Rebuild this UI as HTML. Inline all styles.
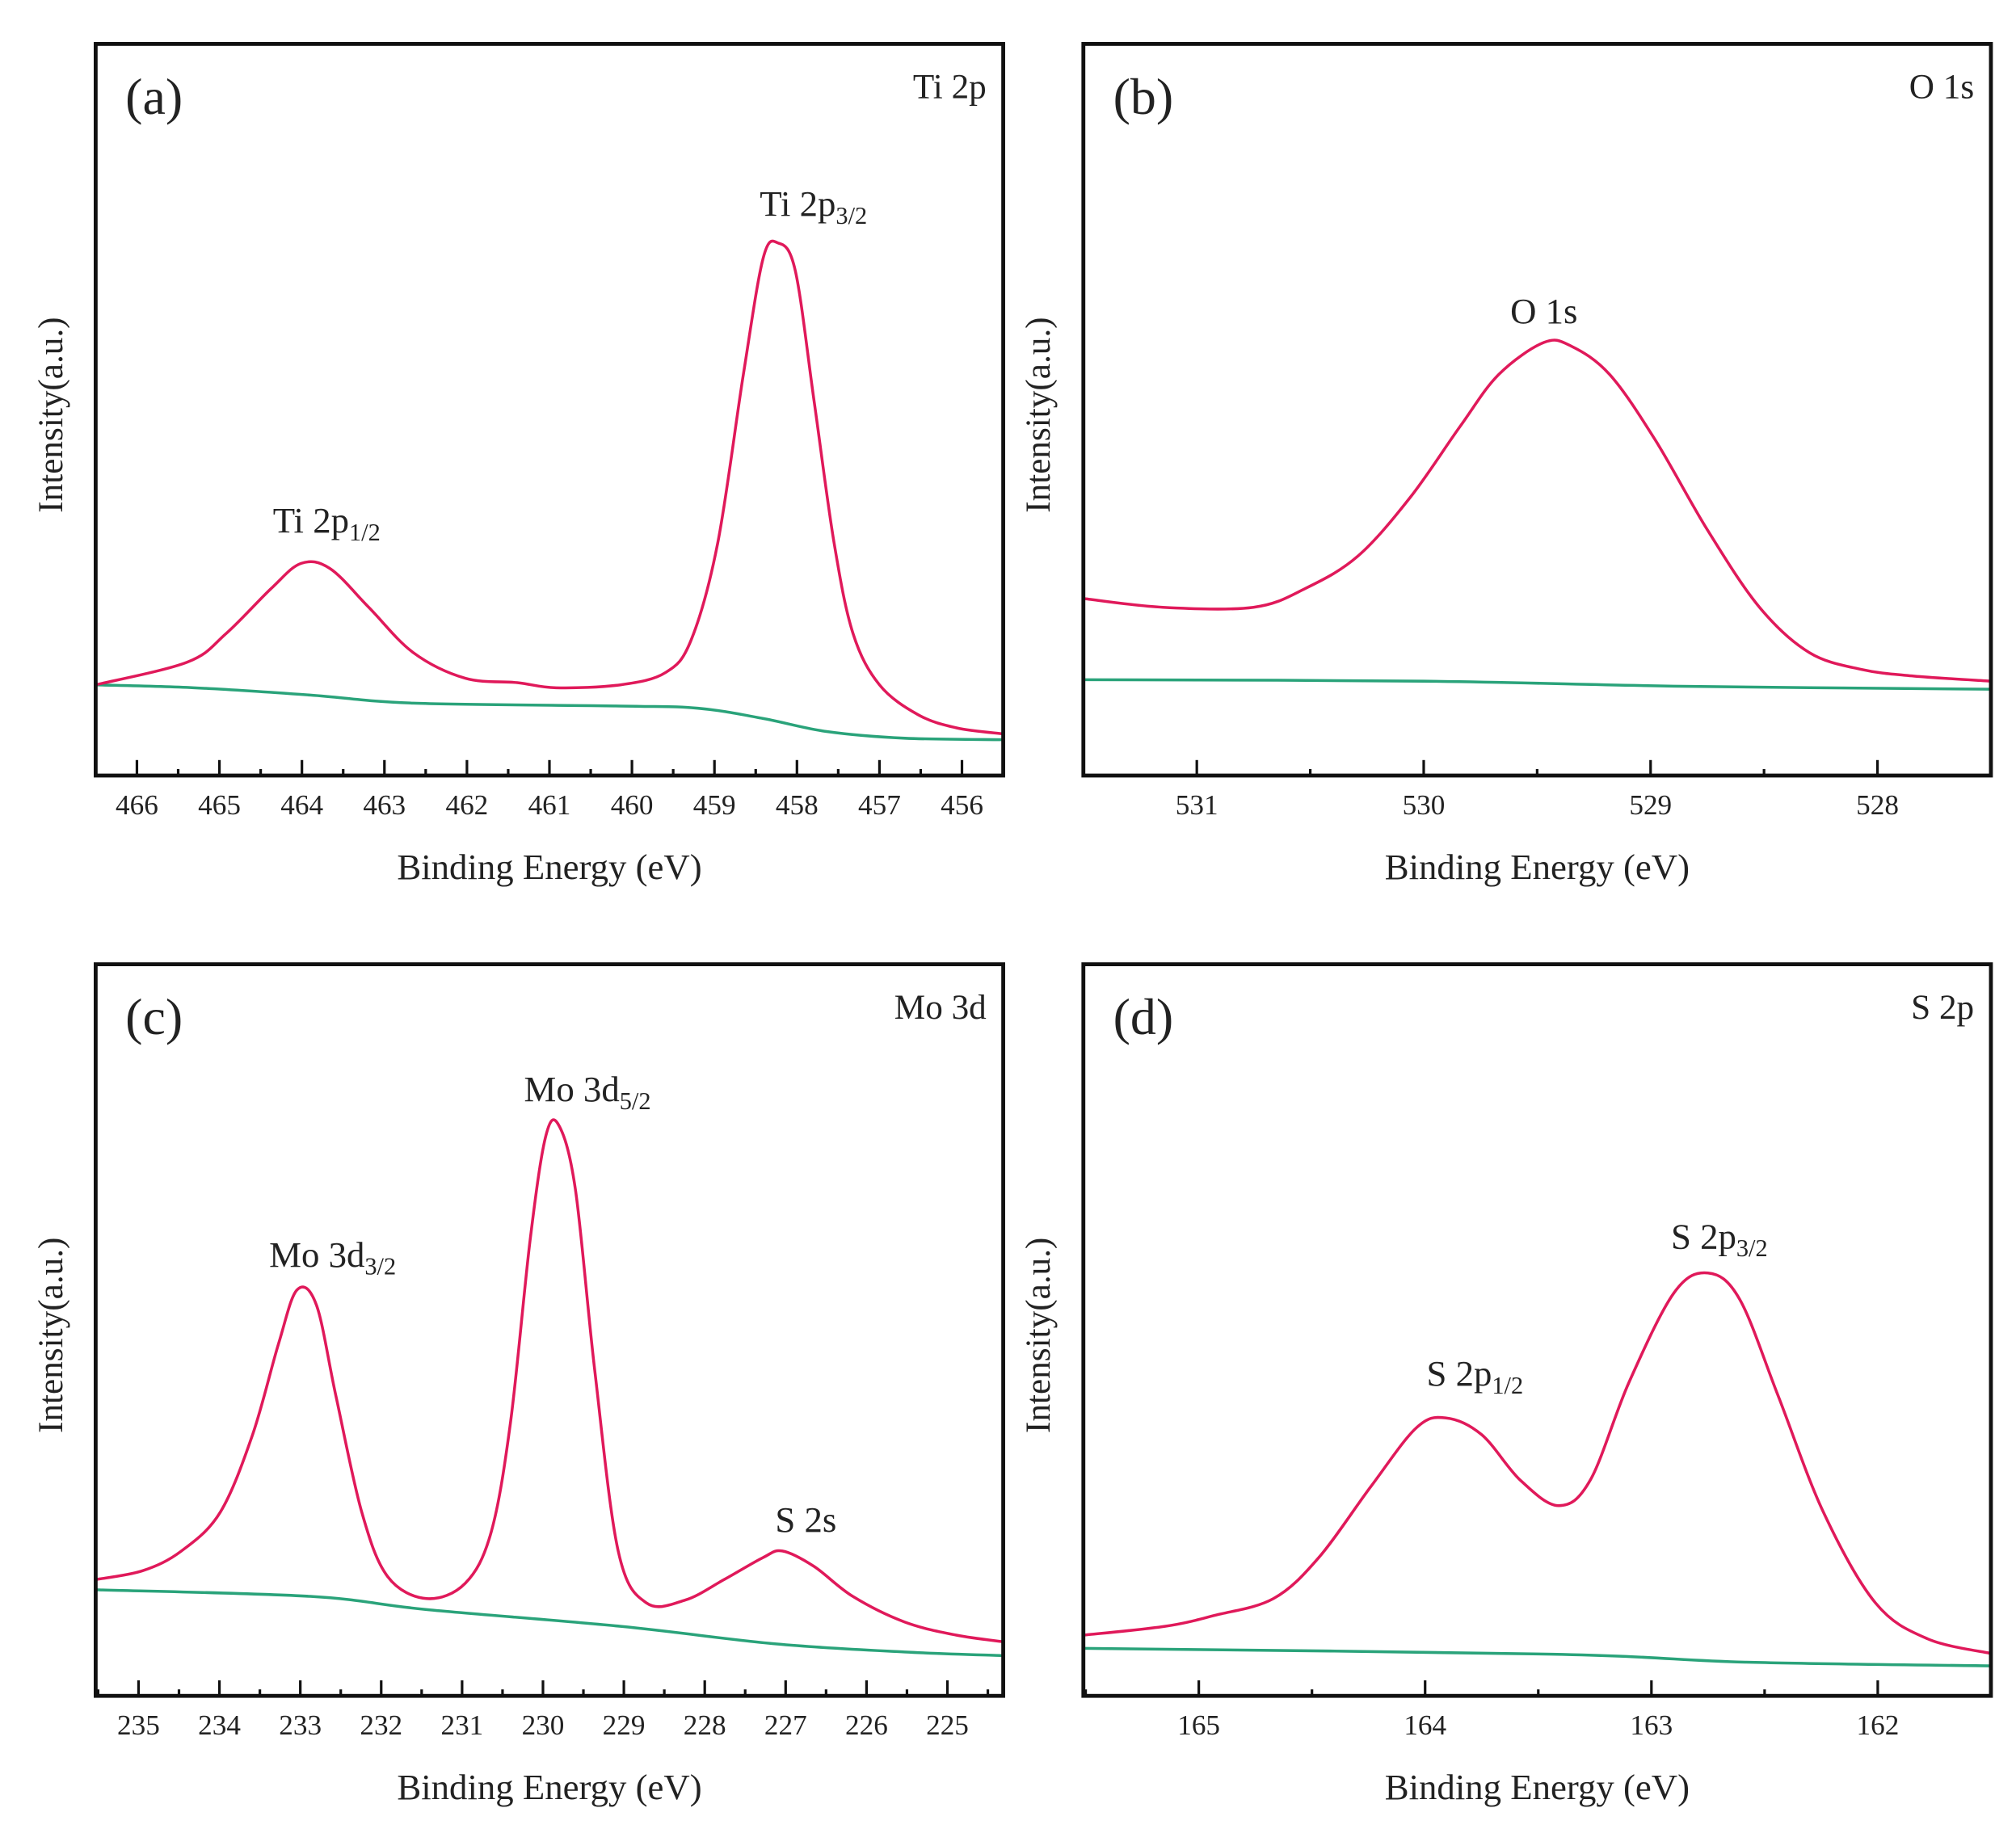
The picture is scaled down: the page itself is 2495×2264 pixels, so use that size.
<!DOCTYPE html>
<html><head><meta charset="utf-8"><style>
html,body{margin:0;padding:0;background:#fff;}
svg{display:block;}
text{font-family:"Liberation Serif",serif;fill:#222;}
</style></head><body>
<svg id="fig" width="2495" height="2264" viewBox="0 0 1559.4 1415" preserveAspectRatio="none" xmlns="http://www.w3.org/2000/svg"></svg>
<script>
// Panel (a) Ti 2p
const aRedX=[466.50,465.39,464.92,464.37,464.01,463.66,463.19,462.65,462.02,461.39,460.92,460.14,459.59,459.28,458.96,458.65,458.41,458.23,458.02,457.79,457.55,457.32,457.00,456.53,456.06,455.50];
const aRedY=[.124,.155,.194,.256,.290,.283,.230,.168,.133,.127,.120,.124,.141,.186,.318,.548,.707,.728,.690,.510,.318,.194,.124,.083,.065,.057];
const aGrnX=[466.50,465.31,463.90,462.65,460.14,459.20,458.41,457.63,456.69,455.50];
const aGrnY=[.124,.120,.110,.099,.095,.092,.078,.060,.051,.049];
const aTicks=[466,465,464,463,462,461,460,459,458,457,456];
// Panel (b) O 1s
const bRedX=[531.50,531.15,530.75,530.52,530.29,530.06,529.84,529.67,529.47,529.35,529.18,528.98,528.75,528.52,528.30,528.07,527.84,527.50];
const bRedY=[.242,.230,.230,.256,.300,.380,.477,.548,.592,.587,.548,.459,.336,.230,.168,.145,.136,.129];
const bGrnX=[531.50,530.0,528.86,527.50];
const bGrnY=[.131,.129,.122,.118];
const bTicks=[531,530,529,528];
// Panel (c) Mo 3d
const cRedX=[235.53,234.95,234.47,233.99,233.59,233.27,233.04,232.80,232.56,232.24,231.92,231.44,230.96,230.64,230.40,230.16,229.97,229.81,229.60,229.36,229.07,228.72,228.24,227.76,227.28,227.04,226.65,226.17,225.53,224.89,224.31];
const cRedY=[.159,.171,.198,.251,.357,.481,.555,.534,.410,.251,.163,.133,.154,.224,.375,.622,.763,.781,.693,.445,.198,.127,.131,.159,.189,.198,.177,.136,.101,.083,.074];
const cGrnX=[235.53,232.88,231.44,229.04,227.12,225.53,224.31];
const cGrnY=[.145,.136,.118,.095,.071,.060,.055];
const cTicks=[235,234,233,232,231,230,229,228,227,226,225];
// Panel (d) S 2p
const dRedX=[165.51,165.15,164.93,164.67,164.47,164.24,164.04,163.91,163.75,163.58,163.41,163.27,163.10,162.90,162.75,162.61,162.44,162.24,162.01,161.78,161.50];
const dRedY=[.083,.095,.110,.133,.189,.286,.366,.380,.357,.295,.260,.295,.428,.551,.578,.542,.410,.251,.127,.078,.058];
const dGrnX=[165.51,163.44,162.58,161.50];
const dGrnY=[.065,.057,.046,.041];
const dTicks=[165,164,163,162];

const NS="http://www.w3.org/2000/svg";
const fig=document.getElementById('fig');
function mk(tag,attrs,parent){const e=document.createElementNS(NS,tag);for(const k in attrs)e.setAttribute(k,attrs[k]);(parent||fig).appendChild(e);return e;}

function smoothPath(pts){
  let d=`M${pts[0][0]},${pts[0][1]}`;
  for(let i=0;i<pts.length-1;i++){
    const p0=pts[i-1]||pts[i],p1=pts[i],p2=pts[i+1],p3=pts[i+2]||p2;
    const c1=[p1[0]+(p2[0]-p0[0])/6,p1[1]+(p2[1]-p0[1])/6];
    const c2=[p2[0]-(p3[0]-p1[0])/6,p2[1]-(p3[1]-p1[1])/6];
    d+=` C${c1[0]},${c1[1]} ${c2[0]},${c2[1]} ${p2[0]},${p2[1]}`;
  }
  return d;
}

function panel(o){
  const g=mk('g',{});
  
  
  const xs=v=>o.L+(o.x0-v)/(o.x0-o.x1)*(o.R-o.L);
  const ys=v=>o.B-v*(o.B-o.T);
  const step=o.ticks[0]-o.ticks[1];
  for(let t=o.ticks[0]+step/2;t>=o.x1;t-=step/2){
    if(t>o.x0) continue;
    const major=o.ticks.some(v=>Math.abs(v-t)<1e-6);
    const x=xs(t);
    const tk=mk('line',{x1:x,x2:x,y1:o.B,y2:o.B-(major?12:5),stroke:'#111','stroke-width':2},g);
    
    
  }
  o.ticks.forEach(t=>{
    const tx=mk('text',{x:xs(t),y:o.B+30,'text-anchor':'middle','font-size':22},g);
    tx.textContent=t;
    
    
  });
  const gp=mk('path',{d:smoothPath(o.gx.map((v,i)=>[xs(v),ys(o.gy[i])])),fill:'none',stroke:'#2aa37a','stroke-width':2.2},g);
  
  
  const rp=mk('path',{d:smoothPath(o.rx.map((v,i)=>[xs(v),ys(o.ry[i])])),fill:'none',stroke:'#e0195a','stroke-width':2.2},g);
  
  
  const fr=mk('rect',{x:o.L,y:o.T,width:o.R-o.L,height:o.B-o.T,fill:'none',stroke:'#111','stroke-width':3},g);
  
  
  const xt=mk('text',{x:(o.L+o.R)/2,y:o.B+80,'text-anchor':'middle','font-size':28},g);
  xt.textContent='Binding Energy (eV)';
  
  
  const cy=(o.T+o.B)/2+4;
  const yt=mk('text',{x:o.L-26,y:cy,'text-anchor':'middle','font-size':27,transform:`rotate(-90 ${o.L-26} ${cy})`},g);
  yt.textContent='Intensity(a.u.)';
  
  
  const pl=mk('text',{x:o.L+23,y:o.T+54,'font-size':40},g);
  pl.textContent='('+o.id+')';
  
  
  const el=mk('text',{x:o.R-13,y:o.T+42,'text-anchor':'end','font-size':27},g);
  el.textContent=o.elem;
  
  
  o.peaks.forEach(p=>{
    const t=mk('text',{x:xs(p.x),y:p.y,'text-anchor':'middle','font-size':28},g);
    t.appendChild(document.createTextNode(p.main));
    if(p.sub){const s=mk('tspan',{'font-size':19,dy:6},t);s.textContent=p.sub;}
    
    
  });
}

panel({id:'a',L:74,R:776,T:34,B:600,x0:466.50,x1:455.50,ticks:aTicks,rx:aRedX,ry:aRedY,gx:aGrnX,gy:aGrnY,elem:'Ti 2p',
  peaks:[{x:463.7,y:412,main:'Ti 2p',sub:'1/2'},{x:457.8,y:167,main:'Ti 2p',sub:'3/2'}]});
panel({id:'b',L:838,R:1540,T:34,B:600,x0:531.50,x1:527.50,ticks:bTicks,rx:bRedX,ry:bRedY,gx:bGrnX,gy:bGrnY,elem:'O 1s',
  peaks:[{x:529.47,y:250,main:'O 1s'}]});
panel({id:'c',L:74,R:776,T:746,B:1312,x0:235.53,x1:224.31,ticks:cTicks,rx:cRedX,ry:cRedY,gx:cGrnX,gy:cGrnY,elem:'Mo 3d',
  peaks:[{x:232.6,y:980,main:'Mo 3d',sub:'3/2'},{x:229.45,y:852,main:'Mo 3d',sub:'5/2'},{x:226.75,y:1185,main:'S 2s'}]});
panel({id:'d',L:838,R:1540,T:746,B:1312,x0:165.51,x1:161.50,ticks:dTicks,rx:dRedX,ry:dRedY,gx:dGrnX,gy:dGrnY,elem:'S 2p',
  peaks:[{x:163.78,y:1072,main:'S 2p',sub:'1/2'},{x:162.7,y:966,main:'S 2p',sub:'3/2'}]});
</script>
</body></html>
